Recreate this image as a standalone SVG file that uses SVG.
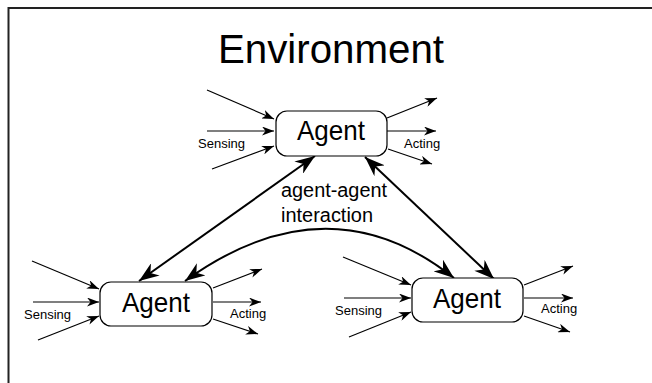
<svg xmlns="http://www.w3.org/2000/svg" width="652" height="383" viewBox="0 0 652 383">
<defs>
<marker id="sm" viewBox="0 -4.5 12 9" refX="12" refY="0" markerWidth="12" markerHeight="9" markerUnits="userSpaceOnUse" orient="auto">
<path d="M0,-4.5 L12,0 L0,4.5 L3.5,0 z" fill="#000"/>
</marker>
<marker id="big" viewBox="0 -7.5 20 15" refX="20" refY="0" markerWidth="20" markerHeight="15" markerUnits="userSpaceOnUse" orient="auto-start-reverse">
<path d="M0,-7.5 L20,0 L0,7.5 L6,0 z" fill="#000"/>
</marker>
<style>
.box{fill:#fff;stroke:#000;stroke-width:1.2}
.lbl{font-family:"Liberation Sans",Arial,sans-serif;fill:#000}
.agent{font-size:28px;text-anchor:middle}
.small{font-size:13px}
.io{stroke:#000;stroke-width:1.2;fill:none;marker-end:url(#sm)}
.link{stroke:#000;stroke-width:2;fill:none;marker-start:url(#big);marker-end:url(#big)}
</style>
</defs>
<rect width="652" height="383" fill="#fff"/>
<path d="M8.5,383 L8.5,8 L652,8" fill="none" stroke="#222" stroke-width="2"/>
<text class="lbl" x="331" y="63" font-size="40" text-anchor="middle" textLength="226" lengthAdjust="spacingAndGlyphs">Environment</text>

<g id="connectors">
<line class="link" x1="315" y1="156" x2="139" y2="281"/>
<line class="link" x1="365" y1="157" x2="494" y2="279"/>
<path class="link" d="M185,281 Q328,178 454,278"/>
<!-- top agent io -->
<line class="io" x1="207" y1="90" x2="274" y2="119"/>
<line class="io" x1="207" y1="131" x2="274" y2="131"/>
<line class="io" x1="212" y1="169" x2="274" y2="146"/>
<line class="io" x1="387" y1="118" x2="437" y2="98"/>
<line class="io" x1="387" y1="131" x2="436" y2="131"/>
<line class="io" x1="388" y1="149" x2="432" y2="164"/>
<!-- bottom-left io -->
<line class="io" x1="32" y1="261" x2="99" y2="289"/>
<line class="io" x1="33" y1="302" x2="99" y2="302"/>
<line class="io" x1="38" y1="340" x2="99" y2="316"/>
<line class="io" x1="213" y1="288" x2="262" y2="269"/>
<line class="io" x1="213" y1="302" x2="261" y2="302"/>
<line class="io" x1="213" y1="319" x2="258" y2="334"/>
<!-- bottom-right io -->
<line class="io" x1="343" y1="257" x2="411" y2="285"/>
<line class="io" x1="344" y1="298" x2="411" y2="298"/>
<line class="io" x1="349" y1="337" x2="411" y2="312"/>
<line class="io" x1="524" y1="285" x2="573" y2="266"/>
<line class="io" x1="524" y1="298" x2="573" y2="298"/>
<line class="io" x1="524" y1="316" x2="570" y2="332"/>
</g>

<text class="lbl" x="281" y="197" font-size="20" textLength="106" lengthAdjust="spacingAndGlyphs">agent-agent</text>
<text class="lbl" x="281" y="222" font-size="20" textLength="92" lengthAdjust="spacingAndGlyphs">interaction</text>

<g id="agent-top">
<rect class="box" x="276" y="111" width="111" height="45" rx="11"/>
<text class="lbl agent" x="331" y="140" textLength="68" lengthAdjust="spacingAndGlyphs">Agent</text>
<text class="lbl small" x="198" y="148">Sensing</text>
<text class="lbl small" x="404" y="148">Acting</text>
</g>
<g id="agent-left">
<rect class="box" x="100" y="282" width="112" height="44" rx="11"/>
<text class="lbl agent" x="156" y="312" textLength="68" lengthAdjust="spacingAndGlyphs">Agent</text>
<text class="lbl small" x="24" y="319">Sensing</text>
<text class="lbl small" x="230" y="318">Acting</text>
</g>
<g id="agent-right">
<rect class="box" x="412" y="278" width="111" height="44" rx="11"/>
<text class="lbl agent" x="467" y="308" textLength="68" lengthAdjust="spacingAndGlyphs">Agent</text>
<text class="lbl small" x="335" y="315">Sensing</text>
<text class="lbl small" x="541" y="313">Acting</text>
</g>
</svg>
